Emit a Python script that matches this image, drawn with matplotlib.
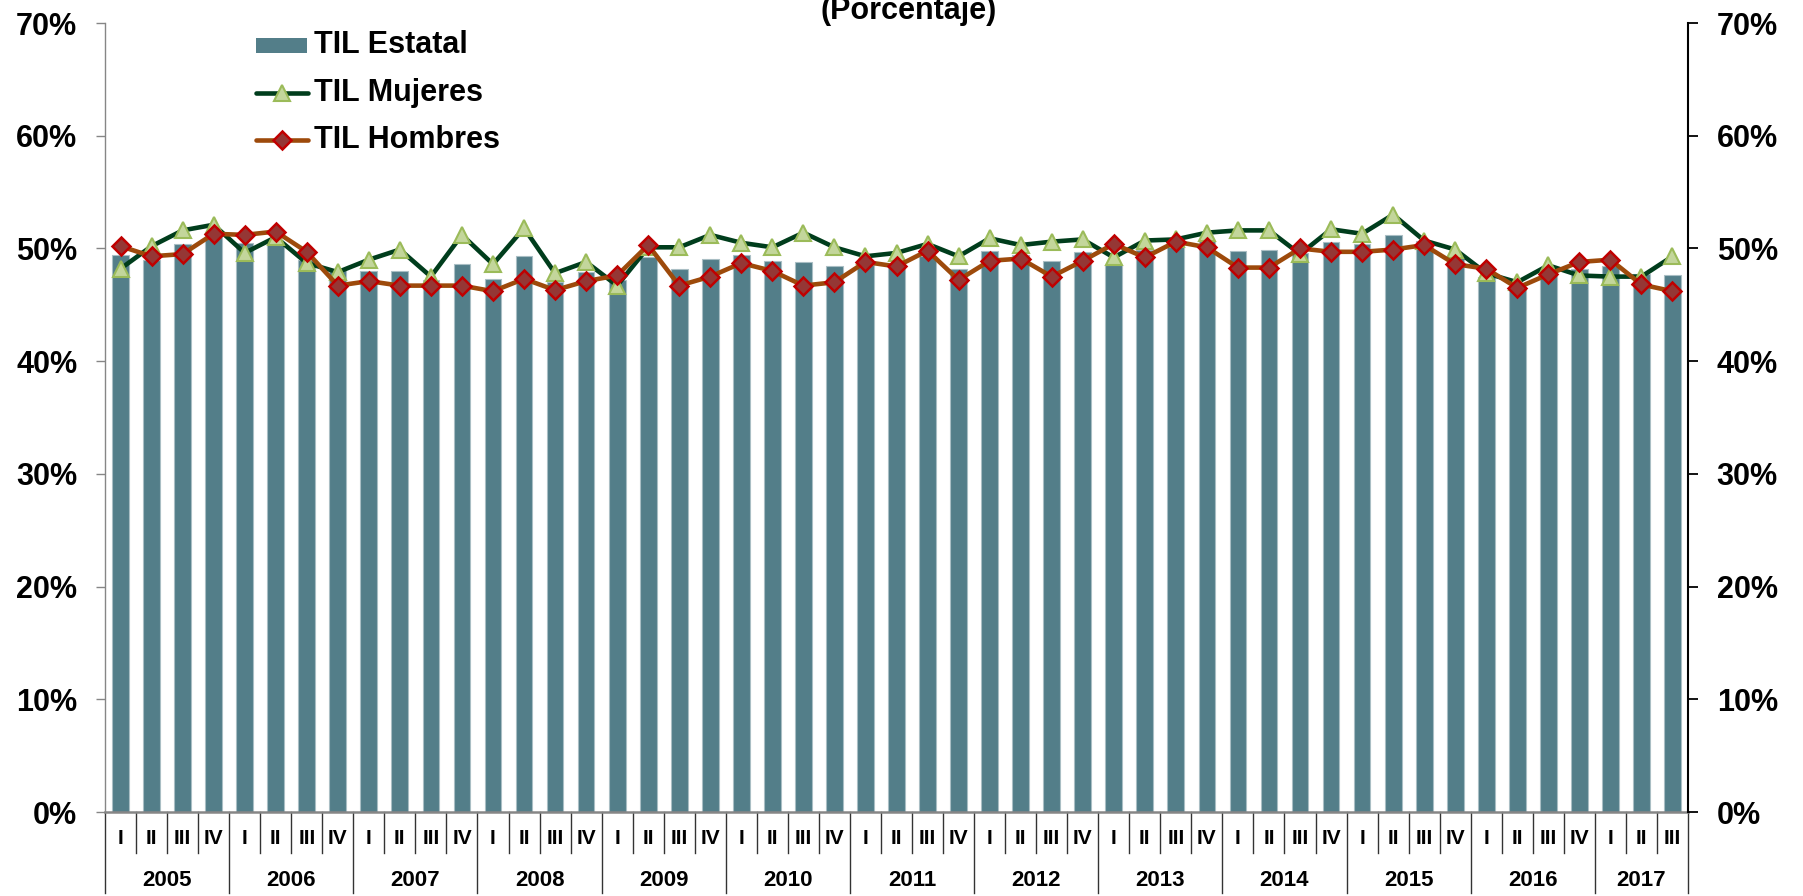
import matplotlib
matplotlib.use("Agg")
import matplotlib.pyplot as plt
from matplotlib.lines import Line2D
from matplotlib.patches import Rectangle
from matplotlib.ticker import FuncFormatter
from matplotlib import font_manager

plt.rcParams['font.family'] = ['Liberation Sans', 'DejaVu Sans']
plt.rcParams['font.weight'] = 'bold'

# narrow font for quarter labels if available
narrow_names = {f.name for f in font_manager.fontManager.ttflist}
if 'Liberation Sans Narrow' in narrow_names:
    Q_FAMILY, Q_SIZE = ['Liberation Sans Narrow', 'Liberation Sans'], 17
else:
    Q_FAMILY, Q_SIZE = ['Liberation Sans', 'DejaVu Sans'], 15

years = ['2005', '2006', '2007', '2008', '2009', '2010', '2011', '2012',
         '2013', '2014', '2015', '2016', '2017']
quarters_per_year = [4, 4, 4, 4, 4, 4, 4, 4, 4, 4, 4, 4, 3]
quarter_names = ['I', 'II', 'III', 'IV']

estatal = [49.4, 49.0, 50.4, 51.3, 50.5, 50.6, 49.0, 48.1, 48.0, 48.0, 47.2, 48.6,
           47.3, 49.3, 47.0, 47.9, 47.2, 49.2, 48.2, 49.1, 49.4, 48.9, 48.8, 48.4,
           48.5, 48.5, 49.3, 48.2, 49.8, 49.4, 48.9, 49.7, 48.5, 49.9, 50.5, 50.7,
           49.8, 49.9, 49.6, 50.6, 50.4, 51.2, 50.7, 49.2, 47.5, 46.6, 48.1, 48.2,
           48.4, 47.7, 47.6]
mujeres = [48.2, 50.2, 51.6, 52.1, 49.6, 51.0, 48.7, 47.9, 49.0, 49.9, 47.5, 51.2,
           48.6, 51.8, 47.8, 48.8, 46.7, 50.1, 50.1, 51.2, 50.5, 50.1, 51.4, 50.1,
           49.3, 49.6, 50.4, 49.3, 50.9, 50.3, 50.6, 50.8, 49.2, 50.7, 50.8, 51.4,
           51.6, 51.6, 49.5, 51.7, 51.3, 53.0, 50.7, 49.9, 47.8, 47.0, 48.5, 47.6,
           47.5, 47.5, 49.3]
hombres = [50.2, 49.3, 49.5, 51.3, 51.2, 51.5, 49.7, 46.7, 47.1, 46.7, 46.7, 46.7,
           46.2, 47.3, 46.3, 47.1, 47.6, 50.3, 46.7, 47.5, 48.7, 48.0, 46.7, 47.0,
           48.8, 48.4, 49.8, 47.2, 48.9, 49.1, 47.5, 48.9, 50.4, 49.2, 50.6, 50.1,
           48.3, 48.3, 50.0, 49.7, 49.7, 49.9, 50.3, 48.6, 48.2, 46.5, 47.7, 48.8,
           49.0, 46.8, 46.2]

W, H = 1803, 896
fig = plt.figure(figsize=(W / 100, H / 100), dpi=100)
L, R, T, B = 105, 1688, 23, 812
ax = fig.add_axes([L / W, (H - B) / H, (R - L) / W, (B - T) / H])

n = len(estatal)
x = list(range(n))

BAR = '#537E89'
M_LINE, M_FACE, M_EDGE = '#003D1C', '#C3D69B', '#9BBB59'
H_LINE, H_FACE, H_EDGE = '#9D4A0B', '#953735', '#C00000'

ax.bar(x, estatal, width=0.54, color=BAR, edgecolor='#a9bec4', linewidth=0.8, zorder=2)
ax.plot(x, mujeres, color=M_LINE, lw=3.3, marker='^', ms=12,
        mfc=M_FACE, mec=M_EDGE, mew=1.5, zorder=3)
ax.plot(x, hombres, color=H_LINE, lw=3.3, marker='D', ms=9,
        mfc=H_FACE, mec=H_EDGE, mew=1.8, zorder=4)

ax.set_xlim(-0.5, n - 0.5)
ax.set_ylim(0, 70)
ax.set_yticks(range(0, 71, 10))
fmt = FuncFormatter(lambda v, p: f'{v:.0f}%')
ax.yaxis.set_major_formatter(fmt)
ax.set_xticks([])
ax.tick_params(axis='y', labelsize=22, length=6.5, width=1, color='#868686', pad=13.5)
for lab in ax.get_yticklabels():
    lab.set_fontweight('bold')

ax.spines['top'].set_visible(False)
ax.spines['right'].set_visible(False)
ax.spines['left'].set_color('#868686')
ax.spines['left'].set_linewidth(1)
ax.spines['bottom'].set_color('#868686')
ax.spines['bottom'].set_linewidth(1.8)

ax2 = ax.twinx()
ax2.set_ylim(0, 70)
ax2.set_yticks(range(0, 71, 10))
ax2.yaxis.set_major_formatter(fmt)
ax2.tick_params(axis='y', labelsize=22, length=7.2, width=1.3, color='black', pad=13.5)
for lab in ax2.get_yticklabels():
    lab.set_fontweight('bold')
for s in ['top', 'left', 'bottom']:
    ax2.spines[s].set_visible(False)
ax2.spines['right'].set_color('black')
ax2.spines['right'].set_linewidth(1.5)

# category axis: quarter labels, year labels and separators
axh = B - T
tr = ax.get_xaxis_transform()
q_low = -41 / axh
y_low = -81 / axh
q_lab = -26 / axh
y_lab = -68 / axh
i = 0
ax.plot([-0.5, -0.5], [0, y_low], transform=tr, color='#333333', lw=1, clip_on=False)
for yr, nq in zip(years, quarters_per_year):
    start = i
    for q in range(nq):
        ax.text(i, q_lab, quarter_names[q], transform=tr, ha='center', va='center',
                fontsize=Q_SIZE, fontweight='bold', family=Q_FAMILY)
        if q < nq - 1:
            ax.plot([i + 0.5, i + 0.5], [0, q_low], transform=tr, color='#333333',
                    lw=1, clip_on=False)
        i += 1
    ax.plot([i - 0.5, i - 0.5], [0, y_low], transform=tr, color='#333333', lw=1,
            clip_on=False)
    ax.text((start + i - 1) / 2, y_lab, yr, transform=tr, ha='center', va='center',
            fontsize=16, fontweight='bold')

# title (partly cut at the top, as in the reference)
fig.text(909 / W, 1 - 18.5 / H, '(Porcentaje)', ha='center', va='baseline',
         fontsize=22, fontweight='bold')

# legend
def fx(px):
    return px / W

def fy(py):
    return 1 - py / H

fig.patches.append(Rectangle((fx(256), fy(53)), 51 / W, 15 / H, transform=fig.transFigure,
                             facecolor=BAR, edgecolor='none'))
fig.lines.append(Line2D([fx(256), fx(308)], [fy(93), fy(93)], transform=fig.transFigure,
                        color=M_LINE, lw=3.3, solid_capstyle='round'))
fig.lines.append(Line2D([fx(282)], [fy(93)], transform=fig.transFigure, marker='^',
                        ms=12, mfc=M_FACE, mec=M_EDGE, mew=1.5, ls='none'))
fig.lines.append(Line2D([fx(256), fx(308)], [fy(140), fy(140)], transform=fig.transFigure,
                        color=H_LINE, lw=3.3, solid_capstyle='round'))
fig.lines.append(Line2D([fx(282)], [fy(140)], transform=fig.transFigure, marker='D',
                        ms=9, mfc=H_FACE, mec=H_EDGE, mew=1.8, ls='none'))
for lbl, py in [('TIL Estatal', 45), ('TIL Mujeres', 93), ('TIL Hombres', 140)]:
    fig.text(fx(314), fy(py), lbl, ha='left', va='center', fontsize=22,
             fontweight='bold')

fig.savefig('out.png', dpi=100)
